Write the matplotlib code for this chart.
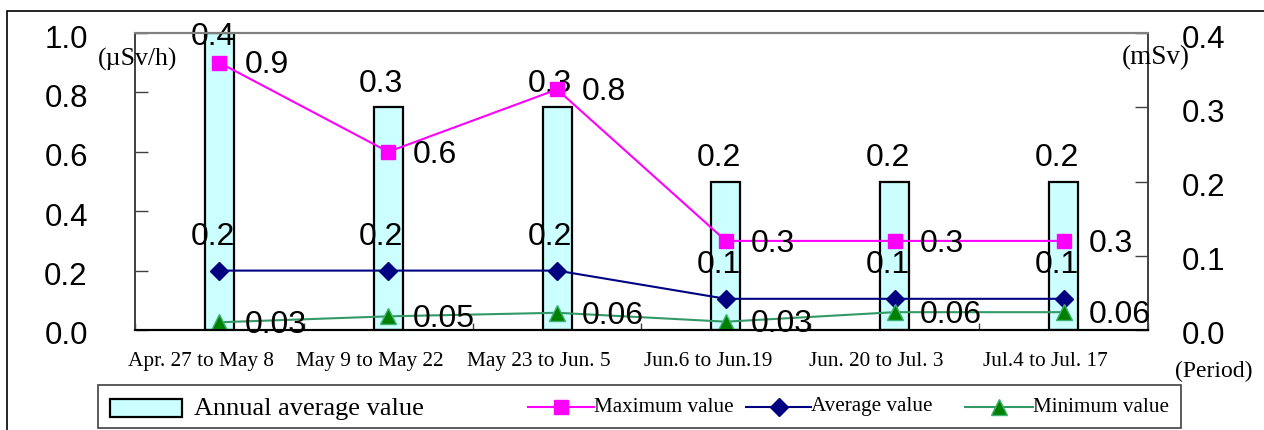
import matplotlib
matplotlib.use("Agg")
import matplotlib.pyplot as plt
from matplotlib.lines import Line2D
from matplotlib.patches import Rectangle
from matplotlib.transforms import ScaledTranslation

# data
periods = ["Apr. 27 to May 8", "May 9 to May 22", "May 23 to Jun. 5",
           "Jun.6 to Jun.19", "Jun. 20 to Jul. 3", "Jul.4 to Jul. 17"]
annual_avg = [0.4, 0.3, 0.3, 0.2, 0.2, 0.2]          # mSv, right axis
max_vals = [0.9, 0.6, 0.81, 0.3, 0.3, 0.3]            # uSv/h, left axis
avg_vals = [0.2, 0.2, 0.2, 0.105, 0.105, 0.105]
min_vals = [0.026, 0.046, 0.058, 0.028, 0.06, 0.06]

W, H = 1264, 430
SANS = "Liberation Sans"
SERIF = "Liberation Serif"
NUM_FS = 23

fig = plt.figure(figsize=(W / 100, H / 100), dpi=100)
fig.patch.set_facecolor("white")

def px(x, y):
    # pixel position (from top-left) -> figure fraction
    return x / W, 1 - y / H

# outer frame
fig.patches.append(Rectangle(px(7, 440), (W + 20) / W, (440 - 11) / H,
                             transform=fig.transFigure, fill=False,
                             edgecolor="black", linewidth=1.2))

ax = fig.add_axes([135 / W, 1 - 330 / H, (1148 - 135) / W, (330 - 33) / H])
ax2 = ax.twinx()
ax.set_zorder(ax2.get_zorder() + 1)
ax.patch.set_visible(False)

x = list(range(len(periods)))

# bars on the right axis
ax2.bar(x, annual_avg, width=0.172, color="#CCFFFF", edgecolor="black",
        linewidth=1.6, zorder=2)
for xi, v in zip(x, annual_avg):
    yl = min(v + 0.031, 0.4 - 0.005)
    ax2.annotate(f"{v:.1f}", (xi, yl), xytext=(-5, 0), textcoords="offset points",
                 ha="center", va="center", fontsize=NUM_FS, family=SANS)

# lines on the left axis
ax.plot(x, max_vals, color="#FF00FF", linewidth=1.5, marker="s",
        markersize=10, markerfacecolor="#FF00FF", markeredgecolor="#FF00FF")
ax.plot(x, avg_vals, color="#000080", linewidth=1.5, marker="D",
        markersize=9, markerfacecolor="#000080", markeredgecolor="#000080")
ax.plot(x, min_vals, color="#339966", linewidth=1.5, marker="^",
        markersize=12, markerfacecolor="#008000", markeredgecolor="#3CB371")

for xi, v in zip(x, max_vals):
    ax.annotate(f"{v:.1f}", (xi, v), xytext=(18, -2), textcoords="offset points",
                ha="left", va="center", fontsize=NUM_FS, family=SANS)
for xi, v in zip(x, avg_vals):
    ax.annotate(f"{v:.1f}", (xi, v), xytext=(-5, 24), textcoords="offset points",
                ha="center", va="center", fontsize=NUM_FS, family=SANS)
for xi, v in zip(x, min_vals):
    ax.annotate(f"{v:.2f}", (xi, v), xytext=(18, -2), textcoords="offset points",
                ha="left", va="center", fontsize=NUM_FS, family=SANS)

ax.set_xlim(-0.5, len(periods) - 0.5)
ax.set_ylim(0, 1.0)
ax2.set_ylim(0, 0.4)
ax.set_yticks([0, 0.2, 0.4, 0.6, 0.8, 1.0])
ax.set_yticklabels([f"{t:.1f}" for t in ax.get_yticks()], family=SANS, fontsize=22.5)
ax2.set_yticks([0, 0.1, 0.2, 0.3, 0.4])
ax2.set_yticklabels([f"{t:.1f}" for t in ax2.get_yticks()], family=SANS, fontsize=22.5)
ax.tick_params(axis="y", direction="in", length=9.5, width=1, pad=34, color="#404040")
ax2.tick_params(axis="y", direction="in", length=9.5, width=1, pad=24, color="#404040")

ax.set_xticks(x)
ax.set_xticklabels(periods, family=SERIF, fontsize=15.3)
ax.set_xticks([i - 0.5 for i in range(len(periods) + 1)], minor=True)
ax.tick_params(axis="x", which="major", length=0, pad=15.5)
ax.tick_params(axis="x", which="minor", direction="in", length=5, width=1, color="#404040")
ax2.tick_params(axis="x", which="both", length=0)
shift = ScaledTranslation(-18 / 100, 0, fig.dpi_scale_trans)
for lab in ax.get_xticklabels():
    lab.set_transform(lab.get_transform() + shift)
down = ScaledTranslation(0, -3 / 100, fig.dpi_scale_trans)
for lab in ax.get_yticklabels() + ax2.get_yticklabels():
    lab.set_transform(lab.get_transform() + down)

for a in (ax, ax2):
    a.spines["top"].set_color("#808080")
    a.spines["top"].set_linewidth(1.5)
    a.spines["left"].set_color("#404040")
    a.spines["right"].set_color("#404040")
    a.spines["bottom"].set_color("black")
    a.spines["bottom"].set_linewidth(1.5)
    a.spines["left"].set_linewidth(1.2)
    a.spines["right"].set_linewidth(1.2)

# unit labels
fig.text(*px(138, 59), "(\u00b5Sv/h)", family=SERIF, fontsize=18.5, ha="center", va="center")
fig.text(*px(1156, 58), "(mSv)", family=SERIF, fontsize=19.5, ha="center", va="center")
fig.text(*px(1214, 371), "(Period)", family=SERIF, fontsize=17, ha="center", va="center")

# legend drawn by hand to match the layout
fig.patches.append(Rectangle(px(98, 428), (1181 - 98) / W, (428 - 385) / H,
                             transform=fig.transFigure, facecolor="white",
                             edgecolor="#404040", linewidth=1.2))
fig.patches.append(Rectangle(px(110, 417), (182 - 110) / W, (417 - 399) / H,
                             transform=fig.transFigure, facecolor="#CCFFFF",
                             edgecolor="black", linewidth=1.6))
fig.text(*px(194, 409), "Annual average value", family=SERIF, fontsize=19,
         ha="left", va="center")

legend_lines = [
    (528, 594, 561, "#FF00FF", "s", 10, "#FF00FF", "#FF00FF", "Maximum value"),
    (746, 811, 779, "#000080", "D", 9, "#000080", "#000080", "Average value"),
    (965, 1033, 999, "#339966", "^", 12, "#008000", "#3CB371", "Minimum value"),
]
for x0, x1, xm, col, mk, ms, fc, ec, name in legend_lines:
    yy = 1 - 407 / H
    fig.lines.append(Line2D([x0 / W, x1 / W], [yy, yy], transform=fig.transFigure,
                            color=col, linewidth=1.5))
    fig.lines.append(Line2D([xm / W], [yy], transform=fig.transFigure, marker=mk,
                            markersize=ms, markerfacecolor=fc, markeredgecolor=ec,
                            linestyle="none"))
    fig.text(x1 / W, yy, name, family=SERIF, fontsize=15.2, ha="left", va="center")

fig.savefig("out.png", dpi=100)
